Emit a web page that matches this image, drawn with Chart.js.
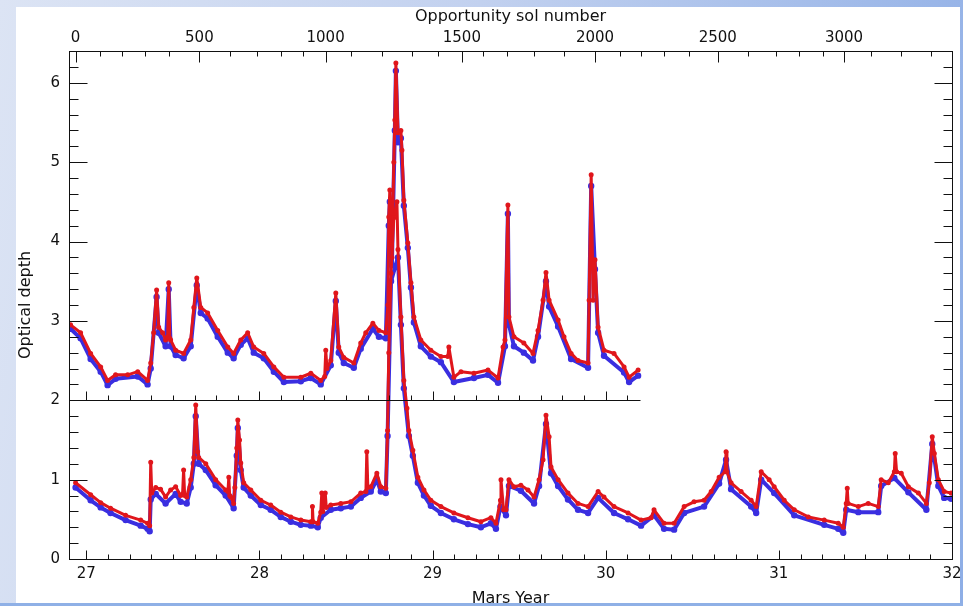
<!DOCTYPE html>
<html>
<head>
<meta charset="utf-8">
<script src="https://cdn.jsdelivr.net/npm/chart.js@4.4.1/dist/chart.umd.min.js"></script>
<style>
  html, body { margin: 0; padding: 0; }
  body {
    width: 963px; height: 606px; overflow: hidden; position: relative;
    background: linear-gradient(100deg, #dce4f4 0%, #c2d1ef 45%, #8eaee6 100%);
  }
  #box { position: absolute; left: 16px; top: 7px; width: 944px; height: 605px; background: #fff; }
  #myChart { position: absolute; left: 0; top: 0; }
  #strip { position: absolute; left: 0; top: 603px; width: 963px; height: 3px; background: #8fb0e6; }
</style>
</head>
<body>
<div id="box"><canvas id="myChart" width="950" height="605"></canvas></div>
<div id="strip"></div>
<script>
'use strict'

// Opportunity (lower trace), red channel
let oppRedYr = [26.938, 27.025, 27.083, 27.140, 27.227, 27.314, 27.354, 27.366, 27.372, 27.378, 27.401, 27.429, 27.458, 27.487, 27.516, 27.545, 27.556, 27.562, 27.568, 27.580, 27.603, 27.621, 27.632, 27.643, 27.649, 27.690, 27.747, 27.805, 27.818, 27.823, 27.828, 27.834, 27.851, 27.858, 27.869, 27.875, 27.885, 27.892, 27.909, 27.950, 28.008, 28.065, 28.123, 28.181, 28.239, 28.297, 28.304, 28.306, 28.310, 28.337, 28.354, 28.360, 28.366, 28.380, 28.386, 28.412, 28.470, 28.528, 28.585, 28.615, 28.620, 28.626, 28.643, 28.678, 28.701, 28.730, 28.740, 28.747, 28.760, 28.776, 28.794, 28.800, 28.817, 28.834, 28.852, 28.863, 28.886, 28.915, 28.950, 28.990, 29.048, 29.123, 29.204, 29.279, 29.337, 29.366, 29.392, 29.395, 29.410, 29.424, 29.441, 29.470, 29.510, 29.551, 29.586, 29.615, 29.638, 29.655, 29.673, 29.684, 29.725, 29.782, 29.840, 29.898, 29.956, 29.990, 30.048, 30.129, 30.204, 30.262, 30.279, 30.337, 30.395, 30.453, 30.510, 30.568, 30.609, 30.655, 30.690, 30.695, 30.700, 30.724, 30.782, 30.840, 30.869, 30.898, 30.944, 30.973, 31.031, 31.089, 31.170, 31.262, 31.343, 31.372, 31.389, 31.395, 31.400, 31.459, 31.516, 31.574, 31.591, 31.632, 31.667, 31.672, 31.680, 31.707, 31.748, 31.806, 31.852, 31.869, 31.886, 31.898, 31.921, 31.955, 31.995]
let oppRedTau = [0.96, 0.81, 0.71, 0.64, 0.55, 0.49, 0.45, 0.42, 1.22, 0.83, 0.90, 0.88, 0.78, 0.87, 0.91, 0.80, 0.82, 1.12, 0.80, 0.78, 1.00, 1.28, 1.94, 1.35, 1.28, 1.20, 1.00, 0.87, 0.85, 1.03, 0.80, 0.78, 0.70, 0.90, 1.40, 1.75, 1.50, 1.21, 0.96, 0.87, 0.74, 0.68, 0.59, 0.53, 0.49, 0.47, 0.47, 0.66, 0.47, 0.45, 0.59, 0.83, 0.60, 0.83, 0.65, 0.68, 0.70, 0.72, 0.83, 0.85, 1.35, 0.90, 0.91, 1.08, 0.91, 0.89, 1.62, 2.60, 3.60, 4.30, 4.50, 3.90, 3.05, 2.25, 1.90, 1.62, 1.37, 1.03, 0.87, 0.74, 0.66, 0.58, 0.52, 0.47, 0.52, 0.45, 0.74, 1.00, 0.62, 0.62, 1.00, 0.91, 0.93, 0.87, 0.78, 1.00, 1.25, 1.81, 1.54, 1.16, 1.00, 0.83, 0.70, 0.66, 0.85, 0.78, 0.66, 0.58, 0.49, 0.52, 0.62, 0.45, 0.45, 0.66, 0.72, 0.74, 0.85, 1.03, 1.10, 1.35, 1.10, 0.96, 0.85, 0.74, 0.66, 1.10, 1.00, 0.91, 0.74, 0.62, 0.53, 0.49, 0.45, 0.40, 0.70, 0.89, 0.70, 0.66, 0.70, 0.66, 1.00, 0.96, 1.10, 1.33, 1.10, 1.08, 0.91, 0.83, 0.70, 0.96, 1.54, 1.33, 1.00, 0.85, 0.83]

// Opportunity, blue channel
let oppBlueYr = [26.938, 27.025, 27.083, 27.140, 27.227, 27.314, 27.354, 27.366, 27.372, 27.401, 27.458, 27.516, 27.545, 27.580, 27.603, 27.621, 27.632, 27.649, 27.690, 27.747, 27.805, 27.851, 27.869, 27.875, 27.892, 27.909, 27.950, 28.008, 28.065, 28.123, 28.181, 28.239, 28.297, 28.337, 28.354, 28.412, 28.470, 28.528, 28.585, 28.643, 28.678, 28.701, 28.730, 28.740, 28.760, 28.800, 28.817, 28.834, 28.863, 28.886, 28.915, 28.950, 28.990, 29.048, 29.123, 29.204, 29.279, 29.337, 29.366, 29.392, 29.424, 29.441, 29.510, 29.586, 29.615, 29.655, 29.684, 29.725, 29.782, 29.840, 29.898, 29.956, 30.048, 30.129, 30.204, 30.279, 30.337, 30.395, 30.453, 30.568, 30.655, 30.695, 30.724, 30.840, 30.869, 30.898, 30.973, 31.089, 31.262, 31.343, 31.372, 31.389, 31.459, 31.574, 31.591, 31.667, 31.748, 31.852, 31.886, 31.921, 31.955, 31.995]
let oppBlueTau = [0.90, 0.74, 0.65, 0.58, 0.49, 0.42, 0.38, 0.35, 0.75, 0.82, 0.70, 0.82, 0.72, 0.70, 0.90, 1.20, 1.80, 1.20, 1.12, 0.93, 0.80, 0.64, 1.30, 1.65, 1.12, 0.90, 0.80, 0.68, 0.62, 0.53, 0.47, 0.43, 0.42, 0.40, 0.52, 0.62, 0.64, 0.66, 0.77, 0.85, 1.00, 0.85, 0.83, 1.55, 3.50, 3.80, 2.95, 2.15, 1.55, 1.30, 0.96, 0.80, 0.67, 0.58, 0.50, 0.44, 0.40, 0.45, 0.38, 0.66, 0.55, 0.92, 0.86, 0.70, 0.92, 1.70, 1.08, 0.92, 0.75, 0.62, 0.58, 0.77, 0.58, 0.50, 0.42, 0.55, 0.38, 0.37, 0.58, 0.66, 0.95, 1.25, 0.88, 0.66, 0.58, 1.00, 0.83, 0.55, 0.43, 0.38, 0.33, 0.62, 0.59, 0.59, 0.92, 1.02, 0.84, 0.62, 1.45, 0.92, 0.77, 0.76]

// Spirit (upper trace, plotted 2 units up), red channel
let spiritRedYr = [26.909, 26.967, 27.025, 27.083, 27.123, 27.169, 27.239, 27.297, 27.354, 27.372, 27.389, 27.406, 27.418, 27.441, 27.458, 27.470, 27.476, 27.482, 27.487, 27.516, 27.562, 27.603, 27.621, 27.638, 27.661, 27.701, 27.759, 27.817, 27.851, 27.892, 27.932, 27.967, 28.025, 28.083, 28.141, 28.239, 28.297, 28.354, 28.377, 28.383, 28.390, 28.412, 28.441, 28.458, 28.487, 28.545, 28.585, 28.614, 28.655, 28.690, 28.730, 28.742, 28.747, 28.753, 28.765, 28.776, 28.782, 28.788, 28.800, 28.817, 28.823, 28.834, 28.857, 28.875, 28.892, 28.932, 28.990, 29.048, 29.088, 29.094, 29.123, 29.164, 29.239, 29.320, 29.378, 29.407, 29.418, 29.435, 29.441, 29.470, 29.527, 29.580, 29.609, 29.638, 29.655, 29.673, 29.725, 29.759, 29.800, 29.840, 29.898, 29.904, 29.916, 29.927, 29.938, 29.956, 29.990, 30.048, 30.106, 30.135, 30.187]
let spiritRedTau = [2.95, 2.85, 2.59, 2.42, 2.25, 2.32, 2.32, 2.36, 2.25, 2.47, 2.85, 3.39, 2.92, 2.85, 2.76, 2.80, 3.48, 2.78, 2.76, 2.63, 2.59, 2.76, 3.17, 3.54, 3.17, 3.10, 2.88, 2.67, 2.59, 2.76, 2.85, 2.67, 2.59, 2.42, 2.29, 2.29, 2.34, 2.25, 2.30, 2.63, 2.40, 2.50, 3.35, 2.67, 2.54, 2.47, 2.72, 2.85, 2.97, 2.88, 2.85, 3.20, 4.31, 4.65, 3.80, 5.00, 5.53, 6.25, 5.37, 5.40, 5.15, 4.52, 3.98, 3.48, 3.05, 2.76, 2.63, 2.55, 2.55, 2.67, 2.29, 2.36, 2.34, 2.38, 2.28, 2.67, 2.76, 4.46, 3.05, 2.80, 2.72, 2.59, 2.88, 3.26, 3.61, 3.26, 3.01, 2.80, 2.59, 2.50, 2.47, 3.26, 4.84, 3.26, 3.77, 2.92, 2.63, 2.59, 2.42, 2.29, 2.38]

// Spirit, blue channel
let spiritBlueYr = [26.909, 26.967, 27.025, 27.083, 27.123, 27.169, 27.297, 27.354, 27.372, 27.406, 27.418, 27.458, 27.476, 27.487, 27.516, 27.562, 27.603, 27.638, 27.661, 27.701, 27.759, 27.817, 27.851, 27.892, 27.932, 27.967, 28.025, 28.083, 28.141, 28.239, 28.297, 28.354, 28.412, 28.441, 28.458, 28.487, 28.545, 28.585, 28.655, 28.690, 28.730, 28.747, 28.753, 28.765, 28.782, 28.788, 28.800, 28.817, 28.834, 28.857, 28.875, 28.892, 28.932, 28.990, 29.048, 29.123, 29.239, 29.320, 29.378, 29.418, 29.435, 29.441, 29.470, 29.527, 29.580, 29.609, 29.655, 29.673, 29.725, 29.800, 29.898, 29.916, 29.938, 29.956, 29.990, 30.106, 30.135, 30.187]
let spiritBlueTau = [2.90, 2.78, 2.52, 2.36, 2.19, 2.27, 2.30, 2.20, 2.40, 3.30, 2.85, 2.68, 3.40, 2.68, 2.57, 2.53, 2.68, 3.45, 3.10, 3.03, 2.80, 2.60, 2.53, 2.70, 2.78, 2.60, 2.53, 2.36, 2.23, 2.24, 2.28, 2.20, 2.44, 3.25, 2.60, 2.47, 2.41, 2.65, 2.90, 2.80, 2.78, 4.20, 4.50, 3.70, 5.40, 6.15, 5.25, 5.30, 4.45, 3.92, 3.42, 2.98, 2.68, 2.55, 2.48, 2.23, 2.28, 2.32, 2.22, 2.68, 4.35, 2.95, 2.68, 2.60, 2.50, 2.80, 3.50, 3.18, 2.93, 2.52, 2.41, 4.70, 3.65, 2.85, 2.56, 2.35, 2.23, 2.31]

// axes
let yearTicks = [27, 28, 29, 30, 31, 32]
let tauTicks = [0, 1, 2, 3, 4, 5, 6]
let solLabels = [0, 500, 1000, 1500, 2000, 2500, 3000]
let solTickYr = [26.938, 27.653, 28.382, 29.169, 29.938, 30.647, 31.376]
let solMinorYr = [27.079, 27.208, 27.337, 27.477, 27.828, 27.988, 28.123, 28.249, 28.528, 28.707, 28.880, 29.029, 29.289, 29.429, 29.587, 29.761, 30.084, 30.204, 30.335, 30.480, 30.821, 30.984, 31.119, 31.254, 31.534, 31.707, 31.880]
let yearMin = 26.9
let yearMax = 32
let spiritEnd = 30.2

function toPoints(xs, ys) {
    return xs.map((v, i) => ({ x: v, y: ys[i] }))
}

const RED = '#e0161c'
const BLUE = '#3a2ee0'

// IDL style frame: inward ticks on all four sides and the y=2 separator
const idlAxes = {
    id: 'idlAxes',
    afterDatasetsDraw(chart) {
        const { ctx, chartArea: a, scales } = chart
        const x = scales.x, y = scales.y
        const r = v => Math.round(v) + 0.5
        ctx.save()
        ctx.strokeStyle = '#111'
        ctx.lineWidth = 1
        const seg = (x1, y1, x2, y2) => { ctx.beginPath(); ctx.moveTo(x1, y1); ctx.lineTo(x2, y2); ctx.stroke() }
        const L = r(a.left), R = r(a.right), T = r(a.top), B = r(a.bottom)
        ctx.strokeRect(L, T, R - L, B - T)

        // bottom axis and y=2 line, ticks every 1/8 year
        const y2 = r(y.getPixelForValue(2))
        const xEnd = x.getPixelForValue(spiritEnd)
        seg(L, y2, r(xEnd), y2)
        for (let k = Math.ceil(yearMin * 8); k <= yearMax * 8; k++) {
            const v = k / 8
            const px = r(x.getPixelForValue(v))
            const major = k % 8 === 0
            seg(px, B, px, B - (major ? 9 : 5))
            if (v <= spiritEnd) seg(px, y2, px, y2 - (major ? 9 : 5))
        }
        // top axis (sol number)
        solTickYr.forEach(v => { const px = r(x.getPixelForValue(v)); seg(px, T, px, T + 11) })
        solMinorYr.forEach(v => { const px = r(x.getPixelForValue(v)); seg(px, T, px, T + 5) })
        // left and right axes, minor every 0.2
        for (let k = 0; k <= 32; k++) {
            const py = r(y.getPixelForValue(k / 5))
            const len = k % 5 === 0 ? 18 : 9
            seg(L, py, L + len, py)
            seg(R, py, R - len, py)
        }
        ctx.restore()
    }
}

const tickFont = { family: 'DejaVu Sans', size: 15 }
const titleFont = { family: 'DejaVu Sans', size: 16 }
const noGrid = { display: false, drawTicks: false }

let ctx = document.getElementById('myChart').getContext('2d')
let myChart = new Chart(ctx, {
    type: 'line',
    data: {
        datasets: [{
            label: 'Opportunity blue',
            data: toPoints(oppBlueYr, oppBlueTau),
            borderColor: BLUE, backgroundColor: BLUE,
            borderWidth: 4, pointRadius: 1.2, order: 2
        }, {
            label: 'Opportunity red',
            data: toPoints(oppRedYr, oppRedTau),
            borderColor: RED, backgroundColor: RED,
            borderWidth: 3, pointRadius: 1, order: 1
        }, {
            label: 'Spirit blue',
            data: toPoints(spiritBlueYr, spiritBlueTau),
            borderColor: BLUE, backgroundColor: BLUE,
            borderWidth: 4, pointRadius: 1.2, order: 2
        }, {
            label: 'Spirit red',
            data: toPoints(spiritRedYr, spiritRedTau),
            borderColor: RED, backgroundColor: RED,
            borderWidth: 3, pointRadius: 1, order: 1
        }]
    },
    options: {
        responsive: false,
        animation: false,
        devicePixelRatio: 1,
        layout: { padding: { right: 14 } },
        plugins: { legend: { display: false }, tooltip: { enabled: false } },
        elements: { line: { tension: 0, borderJoinStyle: 'round' }, point: { borderWidth: 0 } },
        scales: {
            x: {
                type: 'linear', position: 'bottom', min: yearMin, max: yearMax,
                afterBuildTicks: axis => { axis.ticks = yearTicks.map(v => ({ value: v })) },
                afterFit: axis => { axis.height = 53; axis.paddingLeft = 0; axis.paddingRight = 0 },
                grid: noGrid, border: { display: false },
                ticks: { color: '#111', font: tickFont, padding: 6, maxRotation: 0 },
                title: { display: true, text: 'Mars Year', color: '#111', font: titleFont, padding: { top: 0, bottom: 4 } }
            },
            x2: {
                type: 'linear', position: 'top', min: yearMin, max: yearMax,
                afterBuildTicks: axis => { axis.ticks = solTickYr.map(v => ({ value: v })) },
                afterFit: axis => { axis.height = 44; axis.paddingLeft = 0; axis.paddingRight = 0 },
                grid: noGrid, border: { display: false },
                ticks: { color: '#111', font: tickFont, padding: 4, maxRotation: 0, callback: (v, i) => solLabels[i] },
                title: { display: true, text: 'Opportunity sol number', color: '#111', font: titleFont, padding: 0 }
            },
            y: {
                type: 'linear', min: 0, max: 6.4,
                afterBuildTicks: axis => { axis.ticks = tauTicks.map(v => ({ value: v })) },
                afterFit: axis => { axis.width = 53 },
                grid: noGrid, border: { display: false },
                ticks: { color: '#111', font: tickFont, padding: 9 },
                title: { display: true, text: 'Optical depth', color: '#111', font: titleFont, padding: 0 }
            }
        }
    },
    plugins: [idlAxes]
})
</script>
</body>
</html>
